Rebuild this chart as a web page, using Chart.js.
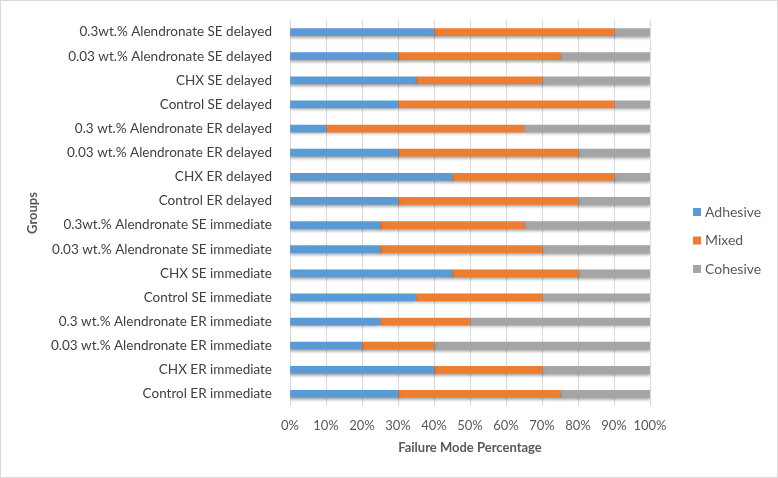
<!DOCTYPE html>
<html>
<head>
<meta charset="utf-8">
<script src="https://cdn.jsdelivr.net/npm/chart.js@4.4.1/dist/chart.umd.min.js"></script>
<style>
  html, body { margin: 0; padding: 0; background: #fff; }
  #wrap { width: 776px; height: 476px; border: 1px solid #d9d9d9; position: relative; }
</style>
</head>
<body>
<div id="wrap"><canvas id="chart" width="776" height="476"></canvas></div>
<script>
const groups = [
  '0.3wt.% Alendronate SE delayed',
  '0.03 wt.% Alendronate SE delayed',
  'CHX SE delayed',
  'Control SE delayed',
  '0.3 wt.% Alendronate ER delayed',
  '0.03 wt.% Alendronate ER delayed',
  'CHX ER delayed',
  'Control ER delayed',
  '0.3wt.% Alendronate SE immediate',
  '0.03 wt.% Alendronate SE immediate',
  'CHX SE immediate',
  'Control SE immediate',
  '0.3 wt.% Alendronate ER immediate',
  '0.03 wt.% Alendronate ER immediate',
  'CHX ER immediate',
  'Control ER immediate'
];
const adhesive = [40, 30, 35, 30, 10, 30, 45, 30, 25, 25, 45, 35, 25, 20, 40, 30];
const mixed    = [50, 45, 35, 60, 55, 50, 45, 50, 40, 45, 35, 35, 25, 20, 30, 45];
const cohesive = [10, 25, 30, 10, 35, 20, 10, 20, 35, 30, 20, 30, 50, 60, 30, 25];
const xTicks = [0, 10, 20, 30, 40, 50, 60, 70, 80, 90, 100];

const FONT = 'Lato, "Open Sans", sans-serif';

// Excel-style soft shadow under the bars
const barShadow = {
  id: 'barShadow',
  beforeDatasetsDraw(chart) {
    const ctx = chart.ctx;
    ctx.save();
    ctx.shadowColor = 'rgba(0,0,0,0.35)';
    ctx.shadowBlur = 3;
    ctx.shadowOffsetY = 2;
  },
  afterDatasetsDraw(chart) {
    chart.ctx.restore();
  }
};

// legend on the right, drawn by hand
const sideLegend = {
  id: 'sideLegend',
  afterDraw(chart) {
    const ctx = chart.ctx;
    ctx.save();
    ctx.font = '14px ' + FONT;
    ctx.textBaseline = 'middle';
    chart.data.datasets.forEach((ds, i) => {
      const y = 211 + i * 28.5;
      ctx.fillStyle = ds.backgroundColor;
      ctx.fillRect(692, y - 4, 8, 8);
      ctx.fillStyle = '#595959';
      ctx.fillText(ds.label, 704, y);
    });
    ctx.restore();
  }
};

new Chart(document.getElementById('chart'), {
  type: 'bar',
  data: {
    labels: groups,
    datasets: [
      { label: 'Adhesive', data: adhesive, backgroundColor: '#5B9BD5' },
      { label: 'Mixed', data: mixed, backgroundColor: '#ED7D31' },
      { label: 'Cohesive', data: cohesive, backgroundColor: '#A5A5A5' }
    ]
  },
  options: {
    indexAxis: 'y',
    responsive: false,
    animation: false,
    barThickness: 7,
    layout: { padding: { top: 19, right: 127, left: 24, bottom: 21 } },
    plugins: {
      legend: { display: false },
      tooltip: { enabled: false }
    },
    scales: {
      x: {
        stacked: true,
        min: 0,
        max: 100,
        afterBuildTicks(scale) {
          scale.ticks = xTicks.map(v => ({ value: v }));
        },
        afterFit(scale) { scale.height = 50; },
        grid: { color: '#d9d9d9', drawTicks: false },
        border: { display: false },
        ticks: {
          padding: 12,
          maxRotation: 0,
          minRotation: 0,
          autoSkip: false,
          color: '#595959',
          font: { family: FONT, size: 13 },
          callback: v => v + '%'
        },
        title: {
          display: true,
          text: 'Failure Mode Percentage',
          color: '#595959',
          font: { family: FONT, size: 13, weight: 'bold' },
          padding: { top: 6, bottom: 0 }
        }
      },
      y: {
        stacked: true,
        afterFit(scale) { scale.width = 265; },
        grid: { display: false },
        border: { display: false },
        ticks: {
          padding: 10,
          color: '#404040',
          font: { family: FONT, size: 13.5 }
        },
        title: {
          display: true,
          text: 'Groups',
          color: '#595959',
          font: { family: FONT, size: 13, weight: 'bold' },
          padding: { top: 0, bottom: 4 }
        }
      }
    }
  },
  plugins: [barShadow, sideLegend]
});
</script>
</body>
</html>
